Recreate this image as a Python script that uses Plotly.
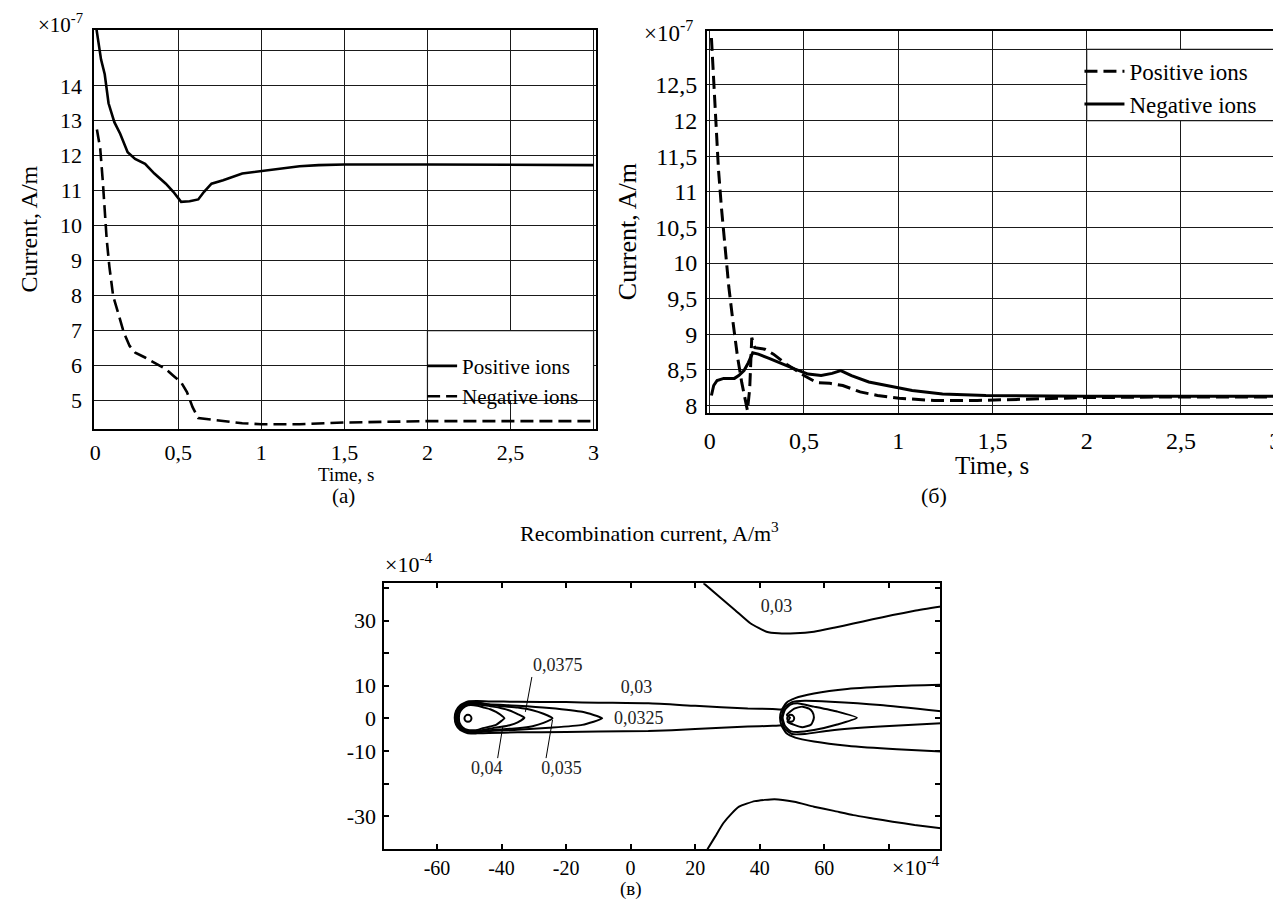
import plotly.graph_objects as go

FONT = "Liberation Serif"

# ---------------- Panel (a) ----------------
a_t_pos = [0.008, 0.02, 0.035, 0.057, 0.08, 0.115, 0.15, 0.195, 0.24, 0.3, 0.356, 0.425, 0.47, 0.517,
           0.568, 0.62, 0.655, 0.70, 0.77, 0.885, 1.0, 1.115, 1.23, 1.345, 1.5, 2.0, 2.5, 3.0]
a_pos = [15.6, 15.2, 14.75, 14.33, 13.5, 12.96, 12.63, 12.1, 11.91, 11.77, 11.49, 11.2, 10.97, 10.68,
         10.7, 10.75, 10.97, 11.2, 11.3, 11.49, 11.56, 11.65, 11.7, 11.73, 11.75, 11.75, 11.74, 11.73]
a_t_neg = [0.01, 0.03, 0.045, 0.057, 0.069, 0.085, 0.108, 0.138, 0.172, 0.207, 0.241, 0.3, 0.356, 0.425,
           0.47, 0.517, 0.552, 0.586, 0.62, 0.70, 0.793, 0.885, 1.0, 1.23, 1.5, 1.8, 2.0, 2.5, 3.0]
a_neg = [12.75, 12.2, 11.3, 10.35, 9.6, 8.83, 7.98, 7.5, 6.94, 6.56, 6.37, 6.23, 6.09, 5.9,
         5.71, 5.52, 5.24, 4.81, 4.5, 4.45, 4.4, 4.35, 4.32, 4.32, 4.37, 4.4, 4.41, 4.41, 4.41]
a_yticks = [5, 6, 7, 8, 9, 10, 11, 12, 13, 14, 15]
a_ytext = ["5", "6", "7", "8", "9", "10", "11", "12", "13", "14", ""]

# ---------------- Panel (б) ----------------
b_t_pos = [0.009, 0.021, 0.032, 0.046, 0.062, 0.081, 0.101, 0.124, 0.147, 0.17, 0.189, 0.2, 0.212,
           0.223, 0.239, 0.292, 0.338, 0.407, 0.5, 0.568, 0.637, 0.706, 0.798, 0.89, 1.005, 1.19,
           1.42, 1.65, 1.99, 2.5, 3.0]
b_pos = [13.16, 12.54, 11.94, 11.33, 10.78, 10.22, 9.67, 9.16, 8.69, 8.32, 8.05, 7.93, 8.23,
         8.95, 8.81, 8.79, 8.72, 8.58, 8.42, 8.32, 8.31, 8.28, 8.19, 8.14, 8.1, 8.07,
         8.07, 8.09, 8.11, 8.12, 8.12]
b_t_neg = [0.009, 0.021, 0.039, 0.074, 0.131, 0.154, 0.182, 0.205, 0.228, 0.258, 0.315, 0.384, 0.453,
           0.522, 0.591, 0.649, 0.695, 0.752, 0.844, 0.959, 1.074, 1.235, 1.465, 1.99, 2.5, 3.0]
b_neg = [8.14, 8.28, 8.35, 8.38, 8.38, 8.42, 8.49, 8.6, 8.74, 8.72, 8.66, 8.58, 8.51,
         8.44, 8.42, 8.45, 8.49, 8.42, 8.33, 8.27, 8.21, 8.16, 8.14, 8.13, 8.13, 8.13]
b_yticks = [8, 8.5, 9, 9.5, 10, 10.5, 11, 11.5, 12, 12.5, 13]
b_ytext = ["8", "8,5", "9", "9,5", "10", "10,5", "11", "11,5", "12", "12,5", ""]

x_ticks = [0, 0.5, 1, 1.5, 2, 2.5, 3]
x_text = ["0", "0,5", "1", "1,5", "2", "2,5", "3"]

# ---------------- Panel (в): contour lines ----------------
c003_lobe_x = [47.2, 44, 36.3, 20, 5.5, -10, -20, -35, -44, -47.5, -50.4, -52.8, -54.1, -54.5, -54.1,
               -52.8, -50.4, -47.5, -44, -35, -20, -10, 5.5, 20, 36.3, 44, 47.2]
c003_lobe_y = [2.7, 2.9, 3.05, 3.85, 4.6, 4.8, 5.0, 5.1, 5.2, 5.3, 5.2, 4.0, 2.3, 0.2, -1.9,
               -3.6, -4.6, -4.6, -4.5, -4.3, -4.2, -4.0, -3.9, -3.3, -2.5, -2.3, -2.1]
c0325_x = [-8.8, -15, -25.2, -35, -44, -47.5, -50.4, -52.6, -53.9, -54.2, -53.9, -52.6, -50.4, -47.5,
           -44, -35, -25.2, -15, -8.8]
c0325_y = [0, 2.0, 3.2, 3.9, 4.3, 4.9, 4.9, 3.8, 2.1, 0.2, -1.8, -3.4, -4.3, -4.3, -3.9, -3.5, -2.9, -2.0, 0]
c035_x = [-24.2, -27, -30.4, -35, -40.7, -45, -47.5, -50.4, -52.4, -53.7, -53.9, -53.7, -52.4, -50.4,
          -47.5, -45, -40.7, -35, -30.4, -27, -24.2]
c035_y = [0, 1.4, 2.5, 3.3, 3.8, 4.3, 4.6, 4.6, 3.6, 2.0, 0.2, -1.7, -3.2, -4.1, -4.1, -3.8, -3.4, -3.0,
          -2.4, -1.4, 0]
c0375_x = [-32.9, -35, -37.5, -40, -42.7, -45.5, -47.5, -50.4, -52.2, -53.4, -53.6, -53.4, -52.2, -50.4,
           -47.5, -45.5, -42.7, -40, -37.5, -35, -32.9]
c0375_y = [0.2, 1.3, 2.4, 3.1, 3.6, 4.0, 4.3, 4.3, 3.4, 1.9, 0.2, -1.6, -3.0, -3.9, -3.9, -3.5, -3.0,
           -2.6, -2.1, -1.2, 0.2]
c04_x = [-39.1, -40.3, -41.7, -43.5, -45.8, -47.5, -50.4, -52.0, -53.0, -53.2, -53.0, -52.0, -50.4,
         -47.5, -45.8, -43.5, -41.7, -40.3, -39.1]
c04_y = [0, 1.1, 2.0, 2.8, 3.4, 3.9, 4.0, 3.1, 1.7, 0.2, -1.4, -2.8, -3.6, -3.6, -3.0, -2.5, -2.0, -1.0, 0]
r_tear_x = [70.1, 64, 56.8, 51.7, 49.5, 47.8, 47.1, 47.8, 49.5, 51.7, 56.8, 64, 70.1]
r_tear_y = [0.2, 2.1, 3.6, 4.6, 4.2, 2.6, 0.2, -2.3, -3.9, -4.2, -3.6, -1.9, 0.2]
r_outer_x = [96.8, 82.5, 67.1, 56.8, 51, 48.3, 46.8, 46.3, 46.8, 48.3, 51, 56.8, 67.1, 82.5, 96.8]
r_outer_y = [10.3, 9.9, 9.0, 7.6, 6.2, 4.8, 2.5, 0.2, -2.3, -4.6, -5.9, -7.1, -8.4, -9.5, -10.2]
r_mid_x = [96.8, 77.3, 61.9, 54, 50, 47.6, 46.8, 47.6, 50, 54, 61.9, 77.3, 96.8]
r_mid_y = [2.1, 4.1, 5.1, 5.4, 5.0, 3.3, 0.2, -3.0, -4.8, -4.8, -3.7, -2.5, -1.5]
r_blob_x = [50.7, 53.2, 55.3, 56.3, 56.8, 56.3, 55.8, 53.2, 50.7, 48.6, 49.4, 48.4, 50.7]
r_blob_y = [3.0, 3.6, 3.0, 2.0, 0.3, -1.3, -2.0, -2.7, -2.0, -1.0, 0.2, 1.0, 3.0]
up003_x = [22.6, 27.5, 32.4, 37.2, 42.1, 45.8, 51, 56.8, 63, 69, 75, 81.2, 88, 96.2]
up003_y = [41.5, 37.3, 33.2, 29.1, 26.6, 26.1, 26.1, 26.6, 27.8, 29.1, 30.4, 31.7, 33.0, 34.3]
lo003_x = [23.8, 26.2, 28.7, 31.2, 33.6, 38.5, 44.6, 50.7, 56.8, 63, 69, 75, 81.2, 88, 96.2]
lo003_y = [-40.2, -36.3, -32.2, -29.3, -27.1, -25.4, -24.8, -25.6, -27.1, -28.4, -29.7, -30.7, -31.7,
           -32.7, -33.7]
electrode_x = [-50.4, 49.6]
electrode_y = [0, 0]

label_text = ["0,03", "0,03", "0,0325", "0,0375", "0,04", "0,035"]
label_x = [45.2, 1.8, 2.5, -22.6, -44.6, -21.4]
label_y = [34.0, 9.2, -0.5, 16.0, -15.8, -15.8]
leaders = [([-30.6, -32.6], [12.7, 2.0]),
           ([-41.2, -39.6], [-12.2, -2.5]),
           ([-26.2, -24.2], [-12.2, -0.5])]
c_xticks = [-60, -40, -20, 0, 20, 40, 60, 80]
c_xtext = ["-60", "-40", "-20", "0", "20", "40", "60", ""]
c_yticks = [-30, -20, -10, 0, 10, 20, 30, 40]
c_ytext = ["-30", "", "-10", "0", "10", "", "30", ""]

W, H = 1281, 899


def px(x):
    return x / W


def py(y):
    return 1 - y / H


fig = go.Figure()
LW = 2.6
DASH = "13px,6px"

fig.add_trace(go.Scatter(x=a_t_pos, y=a_pos, mode="lines", name="Positive ions",
                         line=dict(color="black", width=LW), xaxis="x", yaxis="y", legend="legend"))
fig.add_trace(go.Scatter(x=a_t_neg, y=a_neg, mode="lines", name="Negative ions",
                         line=dict(color="black", width=LW, dash=DASH), xaxis="x", yaxis="y", legend="legend"))
fig.add_trace(go.Scatter(x=b_t_pos, y=b_pos, mode="lines", name="Positive ions",
                         line=dict(color="black", width=LW + 0.4, dash=DASH), xaxis="x2", yaxis="y2",
                         legend="legend2"))
fig.add_trace(go.Scatter(x=b_t_neg, y=b_neg, mode="lines", name="Negative ions",
                         line=dict(color="black", width=LW + 0.4), xaxis="x2", yaxis="y2", legend="legend2"))

contours = [(c003_lobe_x, c003_lobe_y), (c0325_x, c0325_y), (c035_x, c035_y), (c0375_x, c0375_y),
            (c04_x, c04_y), (r_tear_x, r_tear_y), (r_outer_x, r_outer_y), (r_mid_x, r_mid_y),
            (r_blob_x, r_blob_y), (up003_x, up003_y), (lo003_x, lo003_y)]
for cx, cy in contours:
    fig.add_trace(go.Scatter(x=cx, y=cy, mode="lines", showlegend=False,
                             line=dict(color="black", width=2, shape="spline", smoothing=0.5),
                             xaxis="x3", yaxis="y3"))
fig.add_trace(go.Scatter(x=electrode_x, y=electrode_y, mode="markers", showlegend=False,
                         marker=dict(symbol="circle-open", size=7, color="black", line=dict(width=2)),
                         xaxis="x3", yaxis="y3"))
for lx, ly in leaders:
    fig.add_trace(go.Scatter(x=lx, y=ly, mode="lines", showlegend=False,
                             line=dict(color="black", width=1), xaxis="x3", yaxis="y3"))
fig.add_trace(go.Scatter(x=label_x, y=label_y, mode="text", text=label_text, showlegend=False,
                         textfont=dict(family=FONT, size=18, color="#222"), xaxis="x3", yaxis="y3"))

grid = dict(showgrid=True, gridcolor="#1a1a1a", gridwidth=1.2, zeroline=False, showline=True,
            linecolor="black", linewidth=2, mirror=True, ticks="")

fig.update_layout(
    width=W, height=H, margin=dict(l=0, r=0, t=0, b=0),
    paper_bgcolor="white", plot_bgcolor="white",
    font=dict(family=FONT, color="black"),
    xaxis=dict(domain=[px(82), px(587)], range=[-0.005, 3.014], tickvals=x_ticks, ticktext=x_text,
               tickfont=dict(size=22), anchor="y", ticklabelstandoff=2, **grid),
    yaxis=dict(domain=[py(424), py(22)], range=[4.18, 15.6], tickvals=a_yticks, ticktext=a_ytext,
               tickfont=dict(size=22), anchor="x", ticklabelstandoff=6, **grid),
    xaxis2=dict(domain=[px(699), px(1273)], range=[-0.014, 3.01], tickvals=x_ticks, ticktext=x_text,
                tickfont=dict(size=24), anchor="y2", ticklabelstandoff=5, **grid),
    yaxis2=dict(domain=[py(408), py(23)], range=[7.89, 13.26], tickvals=b_yticks, ticktext=b_ytext,
                tickfont=dict(size=24), anchor="x2", ticklabelstandoff=3, **grid),
    xaxis3=dict(domain=[px(374), px(934)], range=[-76.3, 96], tickvals=c_xticks, ticktext=c_xtext,
                tickfont=dict(size=20), anchor="y3", showgrid=False, zeroline=False, showline=True,
                linecolor="black", linewidth=2, mirror="ticks", ticks="inside", ticklen=5,
                tickwidth=1.5, tickcolor="black", ticklabelstandoff=0),
    yaxis3=dict(domain=[py(847), py(579)], range=[-40.2, 41.5], tickvals=c_yticks, ticktext=c_ytext,
                tickfont=dict(size=22), anchor="x3", showgrid=False, zeroline=False, showline=True,
                linecolor="black", linewidth=2, mirror="ticks", ticks="inside", ticklen=5,
                tickwidth=1.5, tickcolor="black", ticklabelstandoff=2),
    legend=dict(x=px(412), y=py(340), xanchor="left", yanchor="top", bgcolor="rgba(0,0,0,0)",
                font=dict(size=21, family=FONT), itemwidth=30, tracegroupgap=0),
    legend2=dict(x=px(1074), y=py(42), xanchor="left", yanchor="top", bgcolor="rgba(0,0,0,0)",
                 font=dict(size=23, family=FONT), itemwidth=40, tracegroupgap=0),
    shapes=[
        dict(type="rect", xref="x", yref="y", x0=2, x1=3, y0=5, y1=7, fillcolor="white",
             line=dict(color="#1a1a1a", width=1.2), layer="above"),
        dict(type="rect", xref="x2", yref="y2", x0=2, x1=3, y0=12, y1=13, fillcolor="white",
             line=dict(color="#1a1a1a", width=1.2), layer="above"),
    ],
)

ann = [
    dict(text="×10<sup>-7</sup>", x=px(23), y=py(16), xanchor="left", yanchor="middle", font=dict(size=21)),
    dict(text="×10<sup>-7</sup>", x=px(633), y=py(24), xanchor="left", yanchor="middle", font=dict(size=23)),
    dict(text="Current, A/m", x=px(16), y=py(222), textangle=-90, font=dict(size=24)),
    dict(text="Current, A/m", x=px(619), y=py(225), textangle=-90, font=dict(size=26)),
    dict(text="Time, s", x=px(335), y=py(470), font=dict(size=19)),
    dict(text="Time, s", x=px(986), y=py(461), font=dict(size=25)),
    dict(text="(а)", x=px(333), y=py(491), font=dict(size=21)),
    dict(text="(б)", x=px(928), y=py(491), font=dict(size=22)),
    dict(text="Recombination current, A/m<sup>3</sup>", x=px(641), y=py(528), font=dict(size=22)),
    dict(text="×10<sup>-4</sup>", x=px(373), y=py(559), xanchor="left", yanchor="middle", font=dict(size=22)),
    dict(text="×10<sup>-4</sup>", x=px(936), y=py(864), xanchor="right", yanchor="middle", font=dict(size=22)),
    dict(text="(в)", x=px(622), y=py(887), font=dict(size=19)),
]
for a in ann:
    a.update(xref="paper", yref="paper", showarrow=False)
    a.setdefault("xanchor", "center")
    a.setdefault("yanchor", "middle")
    a["font"] = dict(family=FONT, color="black", **a["font"])
fig.update_layout(annotations=ann)

fig.write_html("out.html")
